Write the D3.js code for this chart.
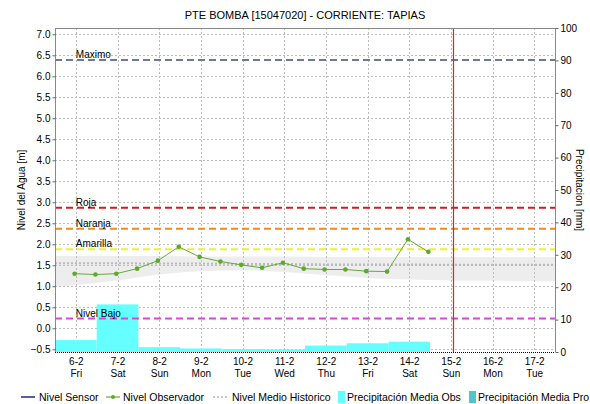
<!DOCTYPE html>
<html>
<head>
<meta charset="utf-8">
<script src="https://cdn.jsdelivr.net/npm/d3@7"></script>
<style>
  html, body { margin: 0; padding: 0; background: #fff; }
  svg { display: block; font-family: "Liberation Sans", Arial, sans-serif; }
</style>
</head>
<body>
<svg id="chart" width="590" height="404"></svg>
<script>
// Day axis (tick labels, two lines each)
const dayLabels = ["6-2","7-2","8-2","9-2","10-2","11-2","12-2","13-2","14-2","15-2","16-2","17-2"];
const weekdays  = ["Fri","Sat","Sun","Mon","Tue","Wed","Thu","Fri","Sat","Sun","Mon","Tue"];

// Observer readings (day index, level in m)
const obsTime  = [-0.03,0.47,0.97,1.47,1.97,2.47,2.97,3.47,3.97,4.47,4.97,5.47,5.97,6.47,6.97,7.47,7.97,8.46];
const obsLevel = [1.30,1.28,1.30,1.42,1.61,1.94,1.70,1.59,1.51,1.44,1.56,1.42,1.40,1.40,1.36,1.35,2.12,1.82];

// Historical envelope and mean (day index, m)
const histTime  = [-0.5,0,1,2,3,4,5,6,7,8,9,10,11,11.5];
const histUpper = [1.72,1.72,1.72,1.72,1.71,1.71,1.71,1.70,1.70,1.70,1.70,1.70,1.70,1.70];
const histLower = [0.98,1.03,1.14,1.28,1.36,1.38,1.34,1.27,1.20,1.16,1.14,1.13,1.12,1.12];
const histMean  = [1.55,1.55,1.55,1.54,1.54,1.53,1.53,1.52,1.52,1.52,1.51,1.51,1.51,1.51];

// Daily observed precipitation (mm)
const precipObs = [3.7,14.7,1.5,1.1,0.9,0.8,2.0,2.7,3.2];

// Alert thresholds (m)
const thrNames  = ["Maximo","Roja","Naranja","Amarilla","Nivel Bajo"];
const thrLevels = [6.39,2.87,2.37,1.88,0.23];
const thrColors = ["#6d7a96","#cc2020","#ee8a22","#eeee3c","#dd44dd"];

// Current time marker (day index)
const nowTime = 9.05;

const levelTicks  = [-0.5,0,0.5,1,1.5,2,2.5,3,3.5,4,4.5,5,5.5,6,6.5,7];
const precipTicks = [0,10,20,30,40,50,60,70,80,90,100];

const svg = d3.select("#chart");
const L = 55, R = 555, T = 28, B = 352;

const x  = d3.scaleLinear().domain([-0.5, 11.5]).range([L, R]);
const yL = d3.scaleLinear().domain([-0.565, 7.15]).range([B, T]);
const yR = d3.scaleLinear().domain([0, 100]).range([B, T]);

// title
svg.append("text").attr("x", 305).attr("y", 19).attr("text-anchor", "middle")
  .attr("font-size", 11).attr("fill", "#000")
  .text("PTE BOMBA [15047020] - CORRIENTE: TAPIAS");

// historical envelope
const bandArea = d3.area()
  .x((d, i) => x(histTime[i]))
  .y0((d, i) => yL(histLower[i]))
  .y1((d, i) => yL(histUpper[i]))
  .curve(d3.curveMonotoneX);
svg.append("path").datum(histTime).attr("d", bandArea).attr("fill", "#ededed");

// grid
const grid = svg.append("g").attr("stroke", "#bdbdbd").attr("stroke-dasharray", "2,2").attr("stroke-width", 1);
levelTicks.forEach(v => {
  grid.append("line").attr("x1", L).attr("x2", R)
    .attr("y1", Math.round(yL(v)) + 0.5).attr("y2", Math.round(yL(v)) + 0.5);
});
dayLabels.forEach((d, i) => {
  grid.append("line").attr("y1", T).attr("y2", B)
    .attr("x1", Math.round(x(i)) + 0.5).attr("x2", Math.round(x(i)) + 0.5);
});

// historical mean
svg.append("path").datum(histTime)
  .attr("d", d3.line().x((d, i) => x(histTime[i])).y((d, i) => yL(histMean[i])))
  .attr("fill", "none").attr("stroke", "#b8b8c0").attr("stroke-width", 2).attr("stroke-dasharray", "2,2");

// precipitation bars
svg.append("g").selectAll("rect").data(precipObs).join("rect")
  .attr("x", (d, i) => x(i - 0.5))
  .attr("width", (d, i) => x(i + 0.5) - x(i - 0.5))
  .attr("y", d => yR(d))
  .attr("height", d => yR(0) - yR(d))
  .attr("fill", "#66ffff");

// thresholds
thrLevels.forEach((v, i) => {
  svg.append("line").attr("x1", L).attr("x2", R)
    .attr("y1", yL(v)).attr("y2", yL(v))
    .attr("stroke", thrColors[i]).attr("stroke-width", 2).attr("stroke-dasharray", "7,4");
  svg.append("text").attr("x", x(0)).attr("y", yL(v) - 2)
    .attr("font-size", 10).attr("fill", "#000").text(thrNames[i]);
});

// observer series
svg.append("path").datum(obsLevel)
  .attr("d", d3.line().x((d, i) => x(obsTime[i])).y(d => yL(d)))
  .attr("fill", "none").attr("stroke", "#66aa33").attr("stroke-width", 1);
svg.append("g").selectAll("circle").data(obsLevel).join("circle")
  .attr("cx", (d, i) => x(obsTime[i])).attr("cy", d => yL(d)).attr("r", 2.3)
  .attr("fill", "#5fa82c");

// current time marker
svg.append("line").attr("x1", Math.round(x(nowTime)) + 0.5).attr("x2", Math.round(x(nowTime)) + 0.5)
  .attr("y1", T).attr("y2", B).attr("stroke", "#e8201c").attr("stroke-width", 1.2);

// frame
svg.append("line").attr("x1", L).attr("x2", R).attr("y1", T + 0.5).attr("y2", T + 0.5).attr("stroke", "#888");
svg.append("line").attr("x1", L).attr("x2", R).attr("y1", B + 0.5).attr("y2", B + 0.5)
  .attr("stroke", "#000").attr("stroke-dasharray", "1,1");

// left axis
const axL = svg.append("g").attr("transform", `translate(${L + 0.5},0)`)
  .call(d3.axisLeft(yL).tickValues(levelTicks).tickFormat(d3.format(".1f")).tickSize(3).tickPadding(2));
axL.select(".domain").attr("stroke", "#888").attr("d", `M0,${T}V${B}`);
axL.selectAll(".tick line").attr("stroke", "#666");
axL.selectAll(".tick text").attr("font-size", 10).attr("font-family", "Liberation Sans, Arial, sans-serif").attr("fill", "#000");

// right axis
const axR = svg.append("g").attr("transform", `translate(${R + 0.5},0)`)
  .call(d3.axisRight(yR).tickValues(precipTicks).tickFormat(d3.format("d")).tickSize(3).tickPadding(2));
axR.select(".domain").attr("stroke", "#888").attr("d", `M0,${T}V${B}`);
axR.selectAll(".tick line").attr("stroke", "#666");
axR.selectAll(".tick text").attr("font-size", 10).attr("font-family", "Liberation Sans, Arial, sans-serif").attr("fill", "#000");

// bottom axis labels
const axB = svg.append("g").attr("transform", `translate(0,${B})`)
  .call(d3.axisBottom(x).tickValues(d3.range(dayLabels.length)).tickFormat(i => dayLabels[i]).tickSize(0).tickPadding(6));
axB.select(".domain").remove();
axB.selectAll(".tick text").attr("font-size", 10).attr("font-family", "Liberation Sans, Arial, sans-serif").attr("fill", "#000")
  .each(function(i) {
    const t = d3.select(this);
    t.text(null);
    t.append("tspan").attr("x", 0).attr("dy", "0.71em").text(dayLabels[i]);
    t.append("tspan").attr("x", 0).attr("dy", "1.15em").text(weekdays[i]);
  });

// axis titles
svg.append("text").attr("transform", "translate(25,190) rotate(-90)")
  .attr("text-anchor", "middle").attr("font-size", 10).text("Nivel del Agua [m]");
svg.append("text").attr("transform", "translate(576,190) rotate(90)")
  .attr("text-anchor", "middle").attr("font-size", 10).text("Precipitacion [mm]");

// legend
const lg = svg.append("g").attr("font-size", 10.5);
const ly = 397;
lg.append("line").attr("x1", 21).attr("x2", 35).attr("y1", ly).attr("y2", ly).attr("stroke", "#1c2a7a").attr("stroke-width", 1.5);
lg.append("text").attr("x", 39).attr("y", ly + 4).text("Nivel Sensor");
lg.append("line").attr("x1", 106).attr("x2", 120).attr("y1", ly).attr("y2", ly).attr("stroke", "#66aa33").attr("stroke-width", 1.2);
lg.append("circle").attr("cx", 113).attr("cy", ly).attr("r", 2).attr("fill", "#5fa82c");
lg.append("text").attr("x", 123).attr("y", ly + 4).text("Nivel Observador");
lg.append("line").attr("x1", 213).attr("x2", 228).attr("y1", ly).attr("y2", ly).attr("stroke", "#c8c8d0").attr("stroke-width", 2).attr("stroke-dasharray", "2,2");
lg.append("text").attr("x", 232).attr("y", ly + 4).text("Nivel Medio Historico");
lg.append("rect").attr("x", 338).attr("y", 391).attr("width", 7).attr("height", 12).attr("fill", "#66ffff");
lg.append("text").attr("x", 347).attr("y", ly + 4).text("Precipitación Media Obs");
lg.append("rect").attr("x", 469).attr("y", 391).attr("width", 7).attr("height", 12).attr("fill", "#4cc8c8");
lg.append("text").attr("x", 478).attr("y", ly + 4).attr("textLength", 111).attr("lengthAdjust", "spacingAndGlyphs")
  .text("Precipitación Media Pro");
</script>
</body>
</html>
